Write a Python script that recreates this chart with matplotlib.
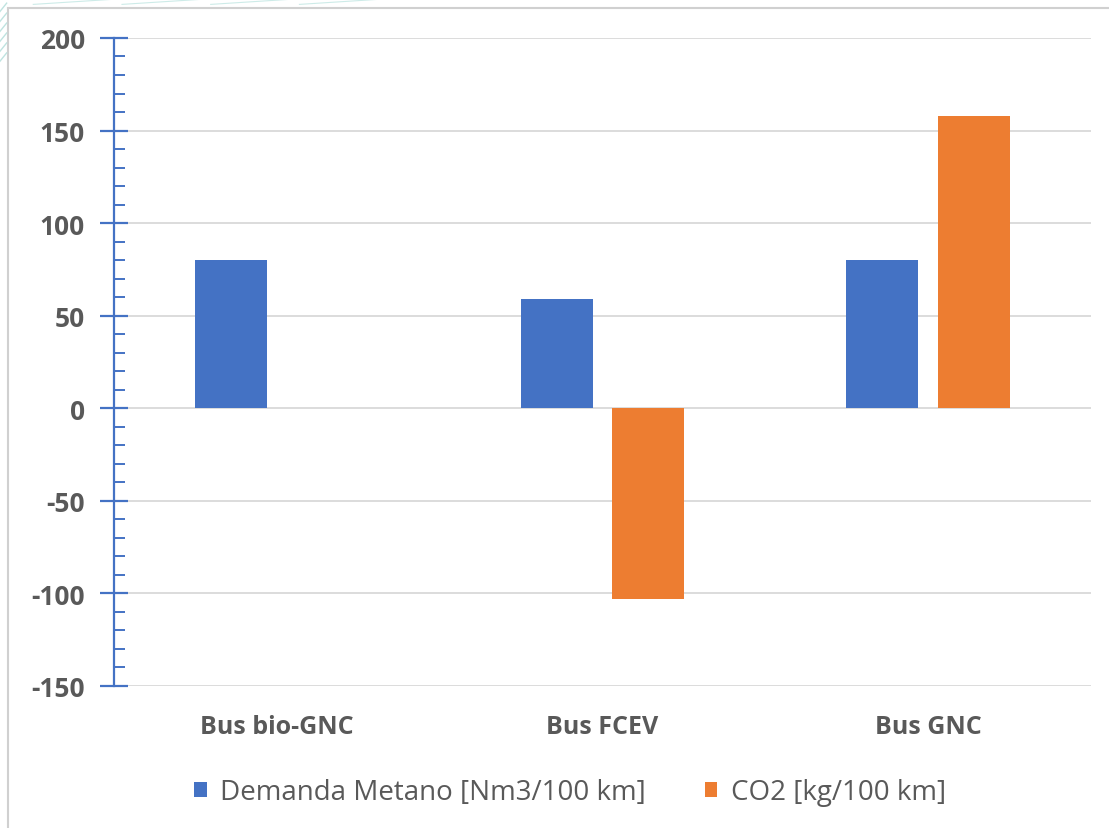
import numpy as np
import matplotlib.pyplot as plt
from matplotlib.patches import Rectangle
from matplotlib.ticker import MultipleLocator

plt.rcParams['font.family'] = ['Open Sans', 'DejaVu Sans']
plt.rcParams['axes.unicode_minus'] = False

# Datos por tipo de bus
categorias = ['Bus bio-GNC', 'Bus FCEV', 'Bus GNC']
demanda_metano = [80, 59, 80]
co2 = [0, -103, 158]
nombres_series = ['Demanda Metano [Nm3/100 km]', 'CO2 [kg/100 km]']

azul = '#4472C4'
naranja = '#ED7D31'
gris_texto = '#595959'


def crear_grafico():
    fig = plt.figure(figsize=(11.09, 8.29), dpi=100)

    # marco del area del grafico
    fig.patches.append(Rectangle((0.0072, -0.01), 1.0, 1.0028 - 0.0072 + 0.003, transform=fig.transFigure,
                                 fill=False, edgecolor='#D0D0D0', linewidth=1.5))
    # lineas decorativas de fondo (esquina superior izquierda)
    for i in range(6):
        y0 = 0.995 - i * 0.012
        fig.add_artist(plt.Line2D([0.0, 0.006], [y0 - 0.01, y0], transform=fig.transFigure,
                                  color='#BFE3E0', linewidth=1.0))
    for i in range(4):
        x0 = 0.03 + i * 0.08
        fig.add_artist(plt.Line2D([x0, x0 + 0.07], [0.9935, 0.9995], transform=fig.transFigure,
                                  color='#CDEBE8', linewidth=0.8))

    ax = fig.add_axes([0.1028, 0.1713, 0.881, 0.7817])

    x = np.arange(len(categorias))
    ancho = 0.221
    desp = 0.141
    ax.bar(x - desp, demanda_metano, ancho, color=azul, label=nombres_series[0], zorder=3)
    ax.bar(x + desp, co2, ancho, color=naranja, label=nombres_series[1], zorder=3)

    ax.set_xlim(-0.5, 2.5)
    ax.set_ylim(-150, 200)
    ax.yaxis.set_major_locator(MultipleLocator(50))
    ax.yaxis.set_minor_locator(MultipleLocator(10))
    ax.grid(axis='y', which='major', color='#D9D9D9', linewidth=1.3, zorder=0)

    for lado in ['top', 'right', 'bottom']:
        ax.spines[lado].set_visible(False)
    ax.spines['left'].set_color(azul)
    ax.spines['left'].set_linewidth(1.6)

    ax.tick_params(axis='y', which='major', direction='inout', length=20, width=1.6,
                   color=azul, labelsize=19, labelcolor=gris_texto, pad=11)
    ax.tick_params(axis='y', which='minor', direction='in', length=8, width=1.4, color=azul)
    for t in ax.get_yticklabels():
        t.set_fontweight('bold')

    ax.set_xticks(x)
    ax.set_xticklabels(categorias, fontsize=18, fontweight='bold', color=gris_texto)
    ax.tick_params(axis='x', length=0, pad=20)

    fig.legend(loc='center', bbox_to_anchor=(0.514, 0.043), ncol=2, frameon=False,
               fontsize=20, handlelength=0.45, handleheight=0.45, handletextpad=0.5,
               columnspacing=2.1, labelcolor=gris_texto)

    fig.savefig('out.png', dpi=100)


if __name__ == '__main__':
    crear_grafico()
